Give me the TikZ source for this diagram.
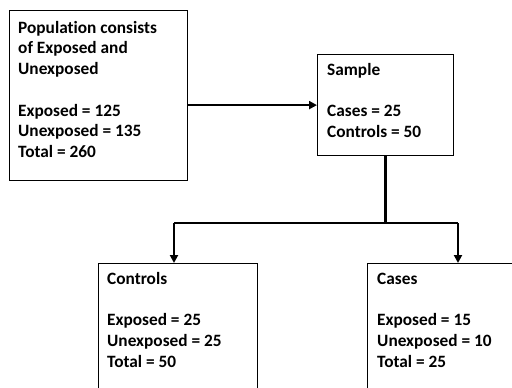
\documentclass[tikz,border=0pt]{standalone}
\usepackage{fontspec}
\setmainfont{Carlito}[Ligatures=NoCommon]
\usetikzlibrary{arrows.meta}
\tikzset{
  box/.style={draw=black, line width=1.2pt, anchor=north west, inner sep=0pt, fill=white},
  txt/.style={anchor=base west, inner sep=0pt, font=\fontsize{17.3}{20.8}\selectfont\bfseries},
  conn/.style={line width=2.6pt, black},
  arr/.style={conn, -{Triangle[length=8pt,width=8pt]}},
}
\begin{document}
\begin{tikzpicture}[x=1pt,y=-1pt]
\useasboundingbox (0,0) rectangle (512,388);
\clip (0,0) rectangle (512,388);
\fill[white] (0,0) rectangle (512,388);
% boxes
\node[box, minimum width=178pt, minimum height=170pt] (pop) at (9,10) {};
\node[box, minimum width=136pt, minimum height=101pt] (sample) at (317,54) {};
\node[box, minimum width=159pt, minimum height=140pt] (ctrl) at (98,263) {};
\node[box, minimum width=170pt, minimum height=140pt] (cases) at (367,263) {};
% texts
\node[txt] (poptxt) at (18,33) {\begin{tabular}[t]{@{}l@{}}Population consists\\ of Exposed and\\ Unexposed\\ \\ Exposed = 125\\ Unexposed = 135\\ Total = 260\end{tabular}};
\node[txt] (sampletxt) at (327,75) {\begin{tabular}[t]{@{}l@{}}Sample\\ \\ Cases = 25\\ Controls = 50\end{tabular}};
\node[txt] (ctrltxt) at (107,284) {\begin{tabular}[t]{@{}l@{}}Controls\\ \\ Exposed = 25\\ Unexposed = 25\\ Total = 50\end{tabular}};
\node[txt] (casestxt) at (377,284) {\begin{tabular}[t]{@{}l@{}}Cases\\ \\ Exposed = 15\\ Unexposed = 10\\ Total = 25\end{tabular}};
% connectors
\coordinate (split) at (sample.south |- 0,223);
\coordinate (lb) at (174,223);
\coordinate (rb) at (458,223);
\draw[arr] (pop.east |- sample.west) -- (sample.west);
\draw[conn] (sample.south) -- (split);
\draw[conn] (lb) -- (rb);
\draw[arr] (lb) -- (lb |- ctrl.north);
\draw[arr] (rb) -- (rb |- cases.north);
\end{tikzpicture}
\end{document}
